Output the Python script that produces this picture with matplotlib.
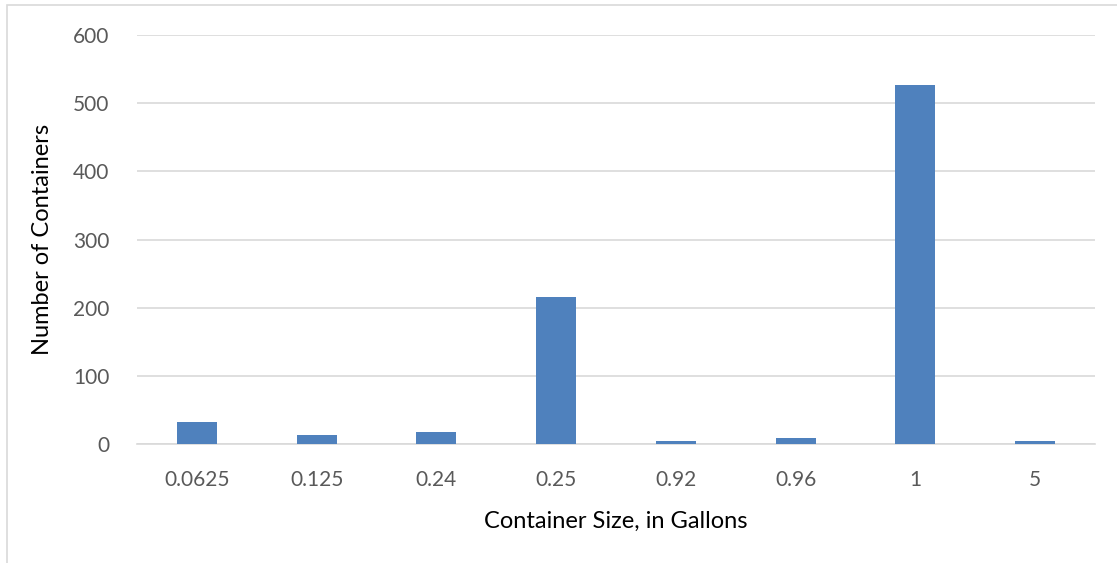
import matplotlib
matplotlib.use("Agg")
import matplotlib.pyplot as plt
from matplotlib.patches import Rectangle

sizes = ["0.0625", "0.125", "0.24", "0.25", "0.92", "0.96", "1", "5"]
counts = [32, 13, 17, 216, 5, 9, 527, 5]
y_ticks = [0, 100, 200, 300, 400, 500, 600]

plt.rcParams["font.family"] = ["Lato", "DejaVu Sans"]

fig = plt.figure(figsize=(11.17, 5.63), dpi=100)
fig.patches.append(Rectangle((0.006, -0.01), 1.0, 1.001, transform=fig.transFigure,
                             fill=False, edgecolor="#d9d9d9", linewidth=1.2))
ax = fig.add_axes([0.1227, 0.2114, 0.8576, 0.7264])

x = range(len(sizes))
ax.bar(x, counts, width=0.335, color="#4f81bd", zorder=3)

ax.set_xlim(-0.5, len(sizes) - 0.5)
ax.set_ylim(0, 600)
ax.set_yticks(y_ticks)
ax.set_xticks(list(x))
ax.set_xticklabels(sizes)
ax.grid(axis="y", color="#d9d9d9", linewidth=1.2, zorder=0)
for s in ["top", "right", "left"]:
    ax.spines[s].set_visible(False)
ax.spines["bottom"].set_color("#d9d9d9")
ax.spines["bottom"].set_linewidth(1.2)
ax.tick_params(axis="both", length=0, labelsize=15, labelcolor="#595959")
ax.tick_params(axis="y", pad=20)
ax.tick_params(axis="x", pad=19)

ax.set_ylabel("Number of Containers", fontsize=17, color="black", labelpad=14)
ax.set_xlabel("Container Size, in Gallons", fontsize=17, color="black", labelpad=15)

fig.savefig("out.png", dpi=100)
